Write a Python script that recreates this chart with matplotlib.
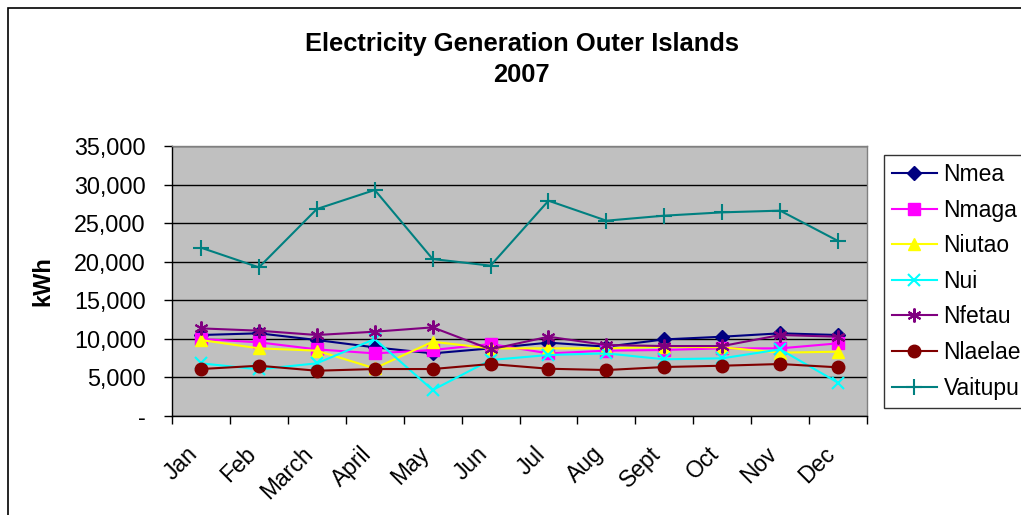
import matplotlib
matplotlib.use("Agg")
import matplotlib.pyplot as plt
import matplotlib.transforms as mtransforms
import numpy as np
from matplotlib.ticker import FuncFormatter, FixedLocator

plt.rcParams['font.family'] = ['Liberation Sans', 'DejaVu Sans']

months = ["Jan", "Feb", "March", "April", "May", "Jun", "Jul", "Aug",
          "Sept", "Oct", "Nov", "Dec"]

nmea = [10500, 10720, 9850, 8900, 8120, 8770, 9510, 8990, 9930, 10280, 10720, 10500]
nmaga = [9980, 9550, 8640, 8120, 8560, 9330, 8120, 8470, 8560, 8770, 8770, 9420]
niutao = [9850, 8770, 8470, 6180, 9630, 8770, 8770, 8770, 8990, 8900, 8210, 8340]
nui = [6830, 6050, 6830, 9980, 3370, 7260, 7910, 8120, 7350, 7480, 8640, 4320]
nfetau = [11360, 11060, 10500, 10930, 11490, 8640, 10280, 9200, 9070, 9070, 10500, 10280]
nlaelae = [6090, 6520, 5870, 6090, 6090, 6740, 6130, 5960, 6350, 6520, 6740, 6310]
vaitupu = [21820, 19270, 26830, 29300, 20350, 19490, 27910, 25320, 25970, 26400, 26620, 22690]

series = [
    ("Nmea", nmea, "#000080", "D", 7),
    ("Nmaga", nmaga, "#FF00FF", "s", 8),
    ("Niutao", niutao, "#FFFF00", "^", 9),
    ("Nui", nui, "#00FFFF", "x", 9),
    ("Nfetau", nfetau, "#800080", "*", 10),
    ("Nlaelae", nlaelae, "#800000", "o", 9),
    ("Vaitupu", vaitupu, "#008080", "+", 11),
]

FS = 16.5

fig = plt.figure(figsize=(10.21, 5.15), dpi=100)
fig.patch.set_facecolor("white")
# outer chart border (runs off the right and bottom edges)
fig.add_artist(plt.Rectangle((8 / 1021, -0.01), 1.0, 1 - 8 / 515 + 0.01,
                             transform=fig.transFigure, fill=False,
                             edgecolor="black", linewidth=1.2))

ax = fig.add_axes([0.1685, 0.1922, 0.6807, 0.5243])
ax.set_facecolor("#C0C0C0")

x = np.arange(len(months))
for name, vals, color, marker, ms in series:
    if marker == "*":
        # asterisk marker: x cross with vertical bar
        ax.plot(x, vals, color=color, linewidth=1.5, marker=(6, 2, 0),
                markersize=ms, markeredgewidth=1.5, label=name, zorder=3)
    elif marker in ("x", "+"):
        ax.plot(x, vals, color=color, linewidth=1.5, marker=marker,
                markersize=ms, markeredgewidth=1.5, label=name, zorder=3)
    else:
        ax.plot(x, vals, color=color, linewidth=1.5, marker=marker,
                markersize=ms, markeredgecolor=color, markerfacecolor=color,
                label=name, zorder=3)

ax.set_xlim(-0.5, len(months) - 0.5)
ax.set_ylim(0, 35000)
ax.set_yticks(np.arange(0, 35001, 5000))
ax.yaxis.set_major_formatter(FuncFormatter(lambda v, p: "-" if v == 0 else f"{int(v):,}"))
ax.grid(axis="y", color="black", linewidth=1.0, zorder=1)
ax.set_axisbelow(True)

ax.set_xticks(x)
ax.set_xticklabels(months, rotation=45, ha="right", rotation_mode="anchor")
ax.xaxis.set_minor_locator(FixedLocator(np.arange(-0.5, len(months), 1.0)))
ax.tick_params(axis="x", which="major", length=0, pad=19, labelsize=FS)
ax.tick_params(axis="x", which="minor", length=6, width=1, direction="out")
ax.tick_params(axis="y", length=6, width=1, direction="out", labelsize=16.8, pad=13)

# nudge the slanted month labels left so they sit under their category
shift = mtransforms.ScaledTranslation(-15 / 100, 0, fig.dpi_scale_trans)
for lbl in ax.get_xticklabels():
    lbl.set_transform(lbl.get_transform() + shift)

for side in ("top", "right"):
    ax.spines[side].set_color("#808080")
    ax.spines[side].set_linewidth(1.0)
for side in ("left", "bottom"):
    ax.spines[side].set_color("black")
    ax.spines[side].set_linewidth(1.0)

ax.set_ylabel("kWh", fontsize=17, fontweight="bold", labelpad=14)

fig.text(0.511, 0.914, "Electricity Generation Outer Islands", ha="center",
         va="center", fontsize=18.4, fontweight="bold")
fig.text(0.511, 0.854, "2007", ha="center", va="center", fontsize=18.4,
         fontweight="bold")

leg = fig.legend(loc="upper left", bbox_to_anchor=(884 / 1021, 1 - 155 / 515),
                 fontsize=FS, frameon=True, fancybox=False, edgecolor="black",
                 borderpad=0.35, labelspacing=0.55, handlelength=1.95,
                 handletextpad=0.3, borderaxespad=0)
leg.get_frame().set_linewidth(1.0)

fig.savefig("out.png", dpi=100, facecolor="white")
